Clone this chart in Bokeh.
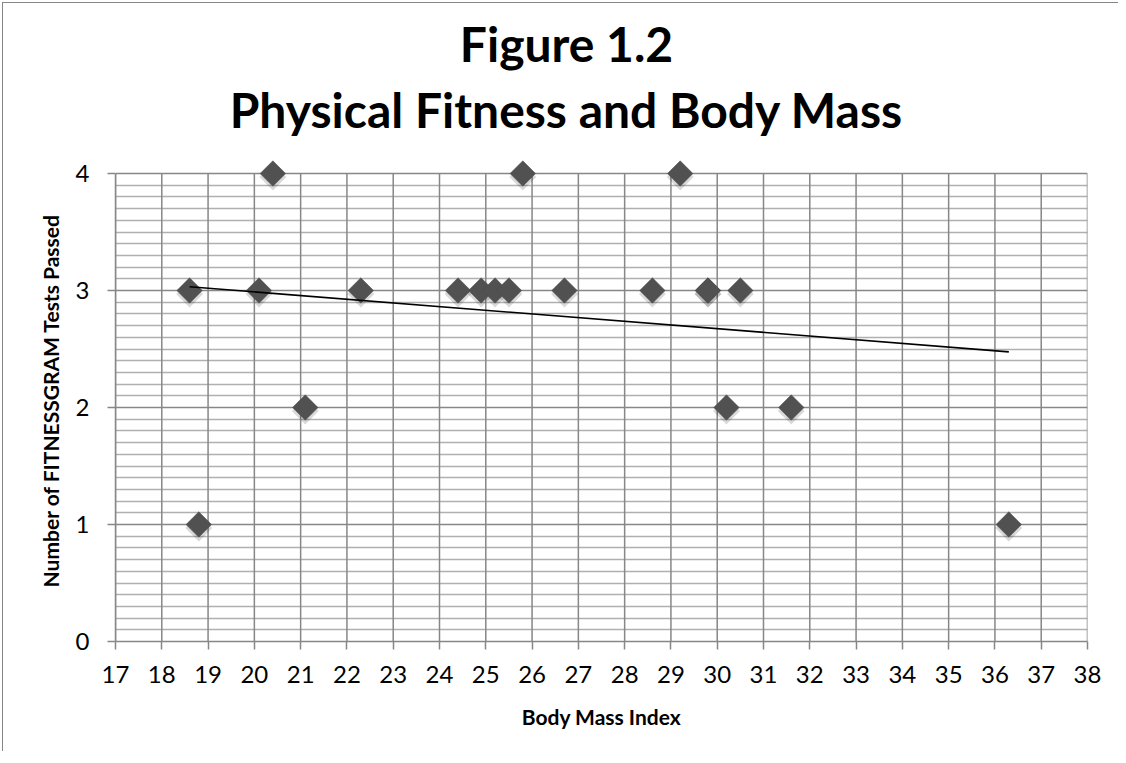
import numpy as np
from bokeh.plotting import figure
from bokeh.models import Range1d, FixedTicker, Title, ColumnDataSource
from bokeh.transform import dodge
from bokeh.embed import file_html
from bokeh.resources import INLINE

# ---- data ----
bmi = [18.6, 18.8, 20.1, 20.4, 21.1, 22.3, 24.4, 24.9, 25.2, 25.5, 25.8,
       26.7, 28.6, 29.2, 29.8, 29.8, 30.2, 30.5, 31.6, 36.3]
tests_passed = [3, 1, 3, 4, 2, 3, 3, 3, 3, 3, 4,
                3, 3, 4, 3, 3, 2, 3, 2, 1]
x_ticks = [17, 18, 19, 20, 21, 22, 23, 24, 25, 26, 27, 28, 29, 30,
           31, 32, 33, 34, 35, 36, 37, 38]
y_ticks = [0, 1, 2, 3, 4]
y_minor = [round(i / 10, 1) for i in range(0, 41) if i % 10]

title_line1 = "Figure 1.2"
title_line2 = "Physical Fitness and Body Mass"
x_label = "Body Mass Index"
y_label = "Number of FITNESSGRAM Tests Passed"

FONT = "Lato"
GRID_MAJOR = "#878787"
GRID_MINOR = "#b0b0b0"

p = figure(frame_width=972, frame_height=482,
           min_border_left=112, min_border_right=31,
           min_border_top=156, min_border_bottom=110,
           x_range=Range1d(17, 38), y_range=Range1d(0, 4.12),
           output_backend="svg", toolbar_location=None, title=None,
           background_fill_color="white", border_fill_color="white",
           outline_line_color=None)
p.styles = {"margin-left": "2px", "margin-top": "2px",
            "border-left": "1px solid #868686", "border-top": "1px solid #868686"}

# title lines, shifted left so they are centred over the whole chart area
def make_title(txt, standoff):
    return Title(text=txt, align="center", standoff=standoff,
                 text_font=FONT, text_font_size="48px",
                 text_font_style="bold", text_color="black",
                 padding=dict(left=0, right=70, top=0, bottom=0))

p.add_layout(make_title(title_line2, 44), "above")
p.add_layout(make_title(title_line1, -31), "above")

# axes
p.xaxis.ticker = FixedTicker(ticks=x_ticks)
p.yaxis.ticker = FixedTicker(ticks=y_ticks)
p.yaxis.bounds = (y_ticks[0], y_ticks[-1])
for ax in (p.xaxis[0], p.yaxis[0]):
    ax.axis_line_color = GRID_MAJOR
    ax.axis_line_width = 1.5
    ax.major_tick_line_color = GRID_MAJOR
    ax.major_tick_line_width = 1.5
    ax.major_tick_out = 8
    ax.major_tick_in = 0
    ax.minor_tick_line_color = None
    ax.major_label_text_font = FONT
    ax.major_label_text_font_size = "24px"
    ax.major_label_text_color = "black"
    ax.axis_label_text_font = FONT
    ax.axis_label_text_font_size = "21px"
    ax.axis_label_text_font_style = "bold"
    ax.axis_label_text_color = "black"
p.xaxis.axis_label = x_label
p.yaxis.axis_label = y_label
p.xaxis.major_label_standoff = 16
p.yaxis.major_label_standoff = 18
p.xaxis.axis_label_standoff = 18
p.yaxis.axis_label_standoff = 10

# grids: horizontal via ygrid, vertical as segments limited to the 0..4 band
p.xgrid.visible = False
p.ygrid.ticker = FixedTicker(ticks=y_ticks, minor_ticks=y_minor)
p.ygrid.grid_line_color = GRID_MAJOR
p.ygrid.grid_line_width = 1.5
p.ygrid.minor_grid_line_color = GRID_MINOR
p.ygrid.minor_grid_line_width = 1.5
p.segment(x0=x_ticks, y0=[y_ticks[0]] * len(x_ticks),
          x1=x_ticks, y1=[y_ticks[-1]] * len(x_ticks),
          line_color=GRID_MAJOR, line_width=1.5)

src = ColumnDataSource(dict(x=bmi, y=tests_passed))

# shadow
p.scatter(x="x", y=dodge("y", -0.03, range=p.y_range), source=src,
          marker="square", angle=np.pi / 4, size=19,
          fill_color="black", fill_alpha=0.15, line_color=None)
# markers
p.scatter(x="x", y="y", source=src, marker="square", angle=np.pi / 4, size=18,
          fill_color="#515151", line_color="#4a4a4a", line_width=0.5)

# linear trendline
slope, intercept = np.polyfit(np.array(bmi), np.array(tests_passed), 1)
tx = [min(bmi), max(bmi)]
ty = [slope * v + intercept for v in tx]
p.line(tx, ty, line_color="black", line_width=1.6)

open("out.html", "w").write(file_html(p, INLINE))
